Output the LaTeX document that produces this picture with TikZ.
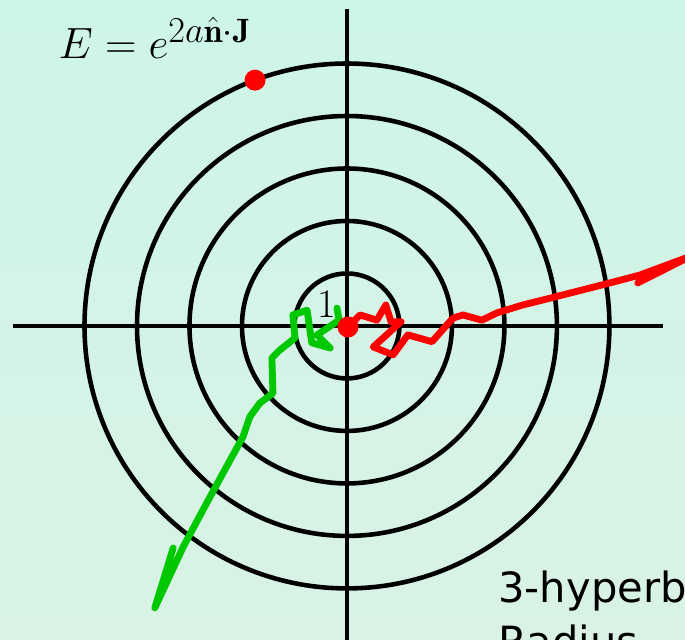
\documentclass[tikz,border=0pt]{standalone}
\usepackage{amsmath,amssymb}
\usepackage{fontspec}
\setsansfont{DejaVu Sans}
\usetikzlibrary{positioning}
\definecolor{bgtop}{HTML}{CDF5E7}
\definecolor{bgbottom}{HTML}{DAF2E6}
\definecolor{walkred}{HTML}{FF0000}
\definecolor{walkgreen}{HTML}{00C800}

\begin{document}
\begin{tikzpicture}[
  x=1.05cm, y=1.05cm,
  ring/.style={draw=black, line width=2.6pt},
  axis/.style={draw=black, line width=2.6pt},
  walk/.style={line width=3.9pt, line join=round, line cap=round},
  spot/.style={circle, fill=walkred, inner sep=0pt, minimum size=0.42cm},
  label/.style={anchor=base west, inner sep=0pt},
  caption/.style={label, font=\sffamily\fontsize{23.7}{28}\selectfont}
]
  \useasboundingbox (-6.61,-5.98) rectangle (6.44,6.21);
  \clip (-6.61,-5.98) rectangle (6.44,6.21);
  \shade[top color=bgtop, bottom color=bgbottom] (-6.61,-5.98) rectangle (6.44,6.21);
  \foreach \r in {1,...,5}
    \draw[ring] (0,0) circle (\r);
  \draw[axis] (-6.37,0) -- (6.03,0);
  \draw[axis] (0,-6.4) -- (0,6.03);
  \node[label, font=\fontsize{27.5}{32}\selectfont] (energy) at (-5.50,5.09)
    {\(E = e^{2a\hat{\mathbf n}\cdot\mathbf J}\)};
  \node[label, font=\fontsize{23}{27}\selectfont] (unit) at (-0.56,0.17) {1};
  \node[caption] (title) at (2.88,-5.26) {3-hyperboloid};
  \node[caption] (radius) at (2.88,-6.29) {Radius};
  \draw[walk, walkgreen] (-0.19,0.34) -- (-0.15,0.11) -- (-0.57,-0.17) -- (-0.32,-0.42)
    -- (-0.67,-0.32) -- (-0.76,0.30) -- (-1.03,0.21) -- (-0.99,-0.23) -- (-1.28,-0.46)
    -- (-1.43,-0.61) -- (-1.41,-1.28) -- (-1.66,-1.47) -- (-1.85,-1.73) -- (-1.98,-2.11)
    -- (-2.36,-2.80) -- (-2.74,-3.50) -- (-3.12,-4.21) -- (-3.66,-5.37) -- (-3.31,-4.23);
  \draw[walk, walkred] (0.02,-0.02) -- (0.25,0.21) -- (0.57,0.11) -- (0.74,0.40)
    -- (0.84,0.08) -- (1.03,0.08) -- (0.50,-0.40) -- (0.88,-0.55) -- (1.16,-0.17)
    -- (1.62,-0.30) -- (2.02,0.15) -- (2.21,0.21) -- (2.57,0.11) -- (2.86,0.25)
    -- (3.35,0.40) -- (3.87,0.53) -- (4.50,0.69) -- (5.01,0.82) -- (5.58,0.97)
    -- (6.55,1.33) -- (5.54,0.82);
  \node[spot] (origin) at (0.02,-0.02) {};
  \node[spot] (boost) at (110.5:5) {};
\end{tikzpicture}
\end{document}
